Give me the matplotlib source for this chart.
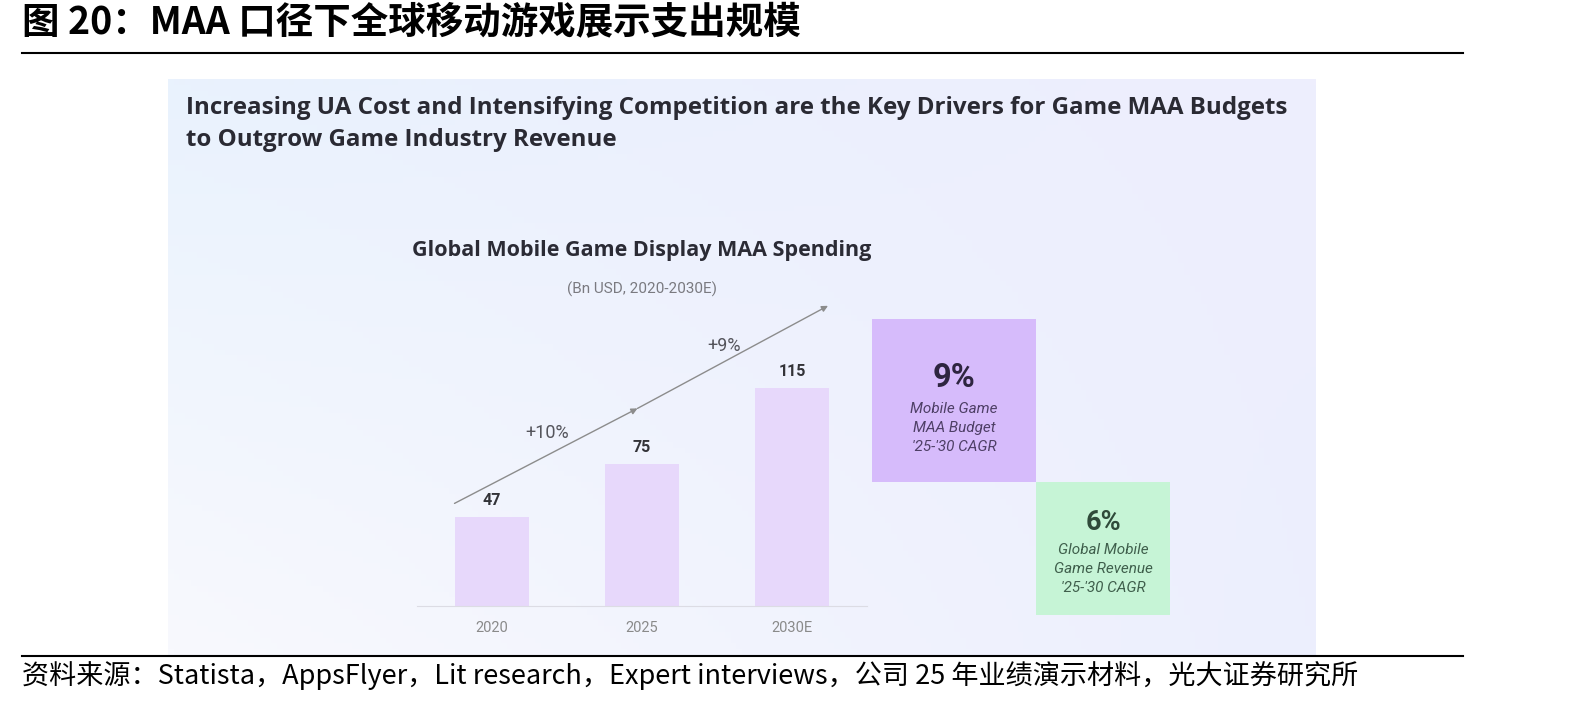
import matplotlib.pyplot as plt
import numpy as np
from matplotlib.colors import to_rgb
from matplotlib.patches import Rectangle
from matplotlib.lines import Line2D

plt.rcParams['font.family'] = ['Noto Sans CJK SC', 'DejaVu Sans']

# data
years = ['2020', '2025', '2030E']
spending = [47, 75, 115]            # Bn USD
growth_labels = ['+10%', '+9%']
cagr_values = [9, 6]                # '25-'30 CAGR, %
cagr_notes = ["Mobile Game\nMAA Budget\n'25-'30 CAGR",
              "Global Mobile\nGame Revenue\n'25-'30 CAGR"]

title = '图 20：MAA 口径下全球移动游戏展示支出规模'
source = ('资料来源：Statista，AppsFlyer，Lit research，Expert interviews，'
          '公司 25 年业绩演示材料，光大证券研究所')
headline = ['Increasing UA Cost and Intensifying Competition are the Key Drivers for Game MAA Budgets',
            'to Outgrow Game Industry Revenue']
chart_title = 'Global Mobile Game Display MAA Spending'
chart_sub = '(Bn USD, 2020-2030E)'

W, H, DPI = 1593, 705, 100
LATIN = ['Roboto', 'DejaVu Sans']
HEAD = ['Open Sans', 'DejaVu Sans']


def fx(x):
    return x / W


def fy(y):
    return 1 - y / H


def rect(x0, y0, x1, y1):
    """pixel box (top-left origin) -> figure-fraction [l, b, w, h]"""
    return [x0 / W, 1 - y1 / H, (x1 - x0) / W, (y1 - y0) / H]


fig = plt.figure(figsize=(W / DPI, H / DPI), dpi=DPI)
fig.patch.set_facecolor('white')

# soft four-corner gradient panel behind the infographic
bg = fig.add_axes(rect(168, 79, 1316, 655))
tl, tr = np.array(to_rgb('#e9f2fd')), np.array(to_rgb('#eeeefd'))
bl, br = np.array(to_rgb('#f8f9fe')), np.array(to_rgb('#eceffd'))
u = np.linspace(0, 1, 200)[None, :, None]
v = np.linspace(0, 1, 100)[:, None, None]
img = (1 - v) * ((1 - u) * tl + u * tr) + v * ((1 - u) * bl + u * br)
bg.imshow(img, aspect='auto', extent=(0, 1, 0, 1))
bg.axis('off')

# page title and rules
fig.text(fx(22), fy(23), title, fontsize=27, fontweight='bold', va='center', ha='left')
fig.add_artist(Line2D([fx(22), fx(1463)], [fy(53)] * 2, color='black', lw=1.5))
fig.add_artist(Line2D([fx(22), fx(1463)], [fy(656)] * 2, color='black', lw=1.5))
fig.text(fx(22), fy(676), source, fontsize=19.5, va='center', ha='left')

# headline
for i, line in enumerate(headline):
    fig.text(fx(186), fy(108 + 32 * i), line, fontsize=17.4, fontweight='bold',
             color='#2a2a33', va='center', ha='left', family=HEAD)

fig.text(fx(642), fy(251), chart_title, fontsize=15.5, fontweight='bold',
         color='#2b2b35', ha='center', va='center', family=HEAD)
fig.text(fx(642), fy(289), chart_sub, fontsize=11, color='#7a7a80',
         ha='center', va='center', family=LATIN)

# bar chart
ax = fig.add_axes(rect(417, 606 - 323, 867, 606))
ax.set_facecolor('none')
x = np.arange(len(years))
ax.bar(x, spending, width=0.49, color='#e7d8fb')
ax.set_xlim(-0.5, 2.5)
ax.set_ylim(0, 170)
for s in ['top', 'left', 'right']:
    ax.spines[s].set_visible(False)
ax.spines['bottom'].set_color('#dcdce4')
ax.set_yticks([])
ax.set_xticks(x, years)
ax.tick_params(axis='x', length=0, pad=11, labelsize=10.5, labelcolor='#8a8a8a')
for lab in ax.get_xticklabels():
    lab.set_family(LATIN)

for xi, v in zip(x, spending):
    ax.annotate(str(v), (xi, v), xytext=(0, 6), textcoords='offset points',
                ha='center', va='bottom', fontsize=11.5, fontweight='bold',
                color='#333338', family=LATIN)

# growth arrow (two segments, head at the middle and at the end)
arrow_pts = [(-0.25, 54), (0.97, 104), (2.24, 158)]
for a, b in zip(arrow_pts[:-1], arrow_pts[1:]):
    ax.annotate('', xy=b, xytext=a,
                arrowprops=dict(arrowstyle='-|>', color='#8c8c8c', lw=1,
                                mutation_scale=9, shrinkA=0, shrinkB=0))
label_pts = [(0.37, 91), (1.55, 137)]
for (lx, ly), lab in zip(label_pts, growth_labels):
    ax.text(lx, ly, lab, ha='center', va='center', fontsize=13,
            color='#55555c', family=LATIN)

# CAGR boxes: (box, fill, big colour, note colour, big size, big y, note y)
boxes = [((872, 319, 1036, 482), '#d6bbfb', '#2e2540', '#4e3f66', 23.5, 59, 109),
         ((1036, 482, 1170, 615), '#c6f4d6', '#2f4a3a', '#3f5f4c', 19.5, 40, 87)]
for (bx, fc, c_big, c_note, big_size, big_y, note_y), val, note in zip(boxes, cagr_values, cagr_notes):
    x0, y0, x1, y1 = bx
    l, b, w, h = rect(x0, y0, x1, y1)
    fig.add_artist(Rectangle((l, b), w, h, transform=fig.transFigure,
                             facecolor=fc, edgecolor='none'))
    cx = (x0 + x1) / 2
    fig.text(fx(cx), fy(y0 + big_y), f'{val}%', fontsize=big_size, fontweight='bold',
             color=c_big, ha='center', va='center', family=LATIN)
    fig.text(fx(cx), fy(y0 + note_y), note, fontsize=11, style='italic',
             color=c_note, ha='center', va='center', linespacing=1.45,
             family=LATIN)

fig.savefig('out.png', dpi=DPI)
